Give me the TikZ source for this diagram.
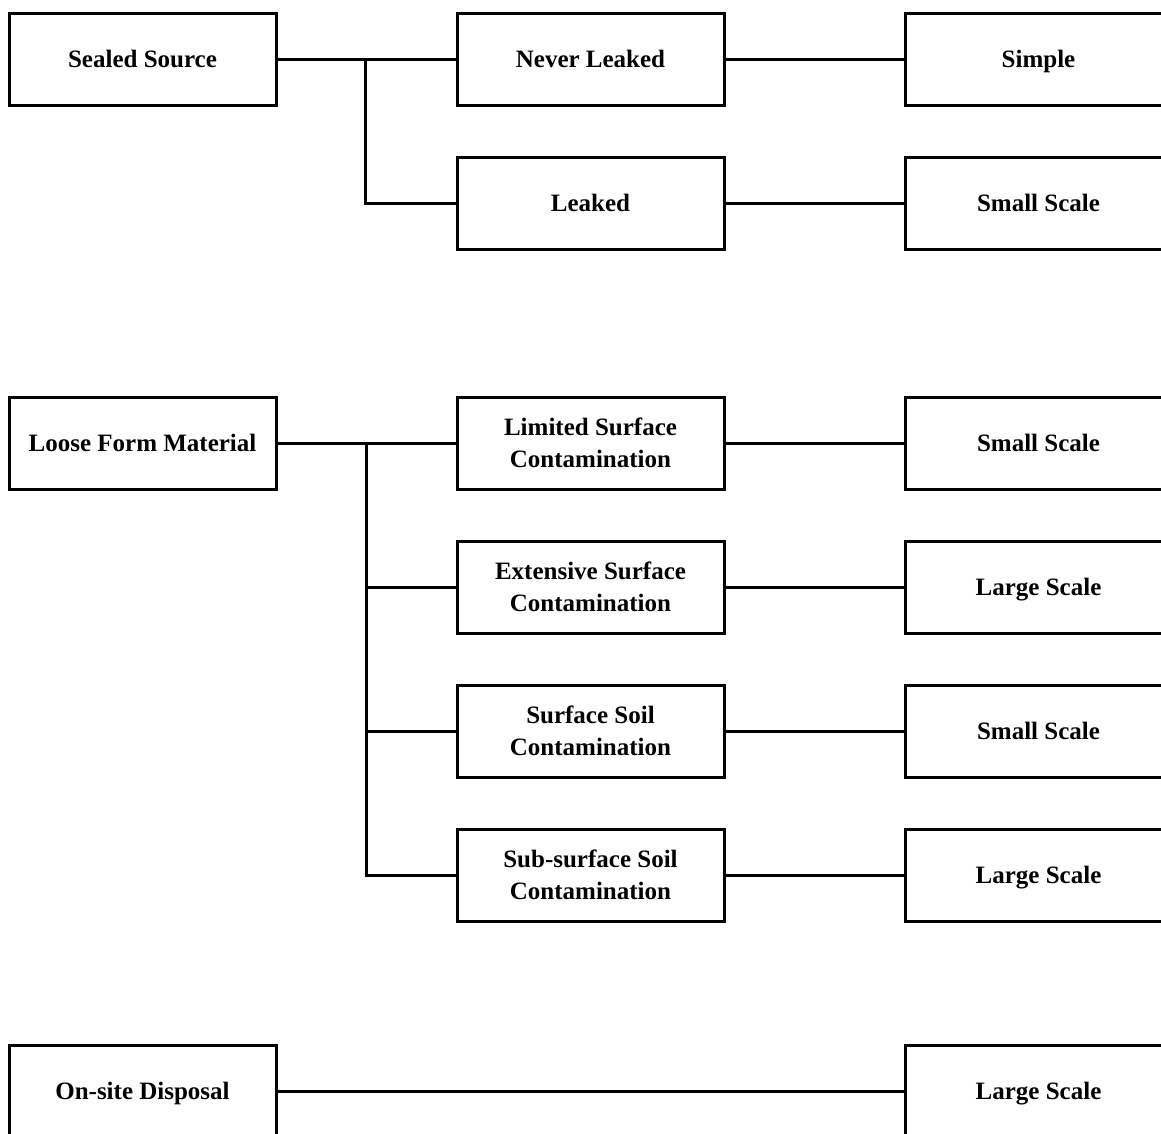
\documentclass[tikz,border=0pt]{standalone}
\usepackage{fontspec}
\setmainfont{Liberation Serif}
\begin{document}
\begin{tikzpicture}[x=1pt,y=-1pt,
  box/.style={draw=black, line width=3pt, minimum width=267pt, minimum height=92pt,
    inner sep=0pt, align=center, text depth=0pt, font=\fontsize{25}{32}\selectfont\bfseries},
  conn/.style={draw=black, line width=3pt}]
\useasboundingbox (0,0) rectangle (1161,1133);
\clip (0,0) rectangle (1161,1133);
\fill[white] (0,0) rectangle (1161,1133);
% Column centers
\def\xa{142.5}\def\xb{590.5}\def\xc{1038.5}
% Row 1
\node[box] (ss) at (\xa,59) {Sealed Source};
\node[box] (nl) at (\xb,59) {Never Leaked};
\node[box] (sim) at (\xc,59) {Simple};
\node[box] (lk) at (\xb,203) {Leaked};
\node[box] (ss1) at (\xc,203) {Small Scale};
\coordinate (b1) at (365,59);
\draw[conn] (ss.east) -- (nl.west);
\draw[conn] (b1) |- (lk.west);
\draw[conn] (nl.east) -- (sim.west);
\draw[conn] (lk.east) -- (ss1.west);
% Row group 2
\node[box] (lf) at (\xa,443) {Loose Form Material};
\node[box] (lsc) at (\xb,443) {Limited Surface\\Contamination};
\node[box] (esc) at (\xb,587) {Extensive Surface\\Contamination};
\node[box] (ssc) at (\xb,731) {Surface Soil\\Contamination};
\node[box] (sub) at (\xb,875) {Sub-surface Soil\\Contamination};
\node[box] (r1) at (\xc,443) {Small Scale};
\node[box] (r2) at (\xc,587) {Large Scale};
\node[box] (r3) at (\xc,731) {Small Scale};
\node[box] (r4) at (\xc,875) {Large Scale};
\coordinate (b2) at (366,443);
\draw[conn] (lf.east) -- (lsc.west);
\draw[conn] (b2) |- (esc.west);
\draw[conn] (b2) |- (ssc.west);
\draw[conn] (b2) |- (sub.west);
\draw[conn] (lsc.east) -- (r1.west);
\draw[conn] (esc.east) -- (r2.west);
\draw[conn] (ssc.east) -- (r3.west);
\draw[conn] (sub.east) -- (r4.west);
% Row 3
\node[box] (od) at (\xa,1091) {On-site Disposal};
\node[box] (odr) at (\xc,1091) {Large Scale};
\draw[conn] (od.east) -- (odr.west);
\end{tikzpicture}
\end{document}
